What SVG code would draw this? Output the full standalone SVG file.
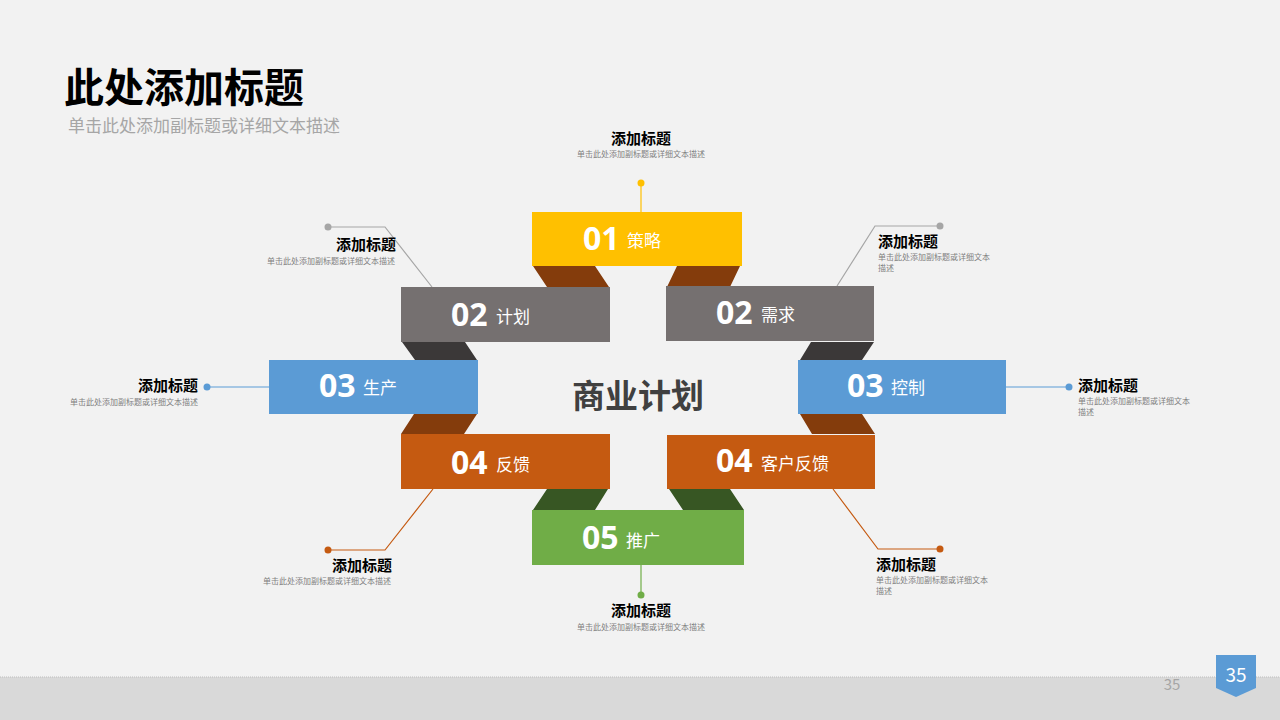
<svg xmlns="http://www.w3.org/2000/svg" width="1280" height="720" viewBox="0 0 1280 720">
<style>
text{font-family:"Noto Sans CJK SC","Liberation Sans",sans-serif}
.n{font-family:"Open Sans","Noto Sans CJK SC",sans-serif;font-weight:bold;font-size:32px;fill:#fff}
.l{font-size:17px;fill:#fff}
.t{font-size:15px;font-weight:bold;fill:#000}
.s{font-size:8px;fill:#7f7f7f}
.r{text-anchor:end}.m{text-anchor:middle}
.ln{fill:none;stroke-width:1.2}
</style>
<rect width="1280" height="720" fill="#f2f2f2"/>
<rect y="677" width="1280" height="43" fill="#d9d9d9"/>
<line x1="0" y1="677" x2="1280" y2="677" stroke="#bfbfbf" stroke-dasharray="1,1"/>
<text x="1172" y="690" class="m" font-size="15" fill="#a6a6a6">35</text>
<path d="M1216,655H1256V688L1236,697L1216,688Z" fill="#5b9bd5"/>
<text x="1236" y="682" class="m" font-size="19" fill="#fff">35</text>
<text x="64" y="102" font-size="40" font-weight="bold" fill="#000">此处添加标题</text>
<text x="68" y="132" font-size="17" fill="#a6a6a6">单击此处添加副标题或详细文本描述</text>
<g id="connectors">
<path class="ln" stroke="#ffc000" d="M641,183V212"/><circle cx="641" cy="183" r="3.5" fill="#ffc000"/>
<path class="ln" stroke="#a6a6a6" d="M328,227H385L432,287"/><circle cx="328" cy="227" r="3.5" fill="#a6a6a6"/>
<path class="ln" stroke="#a6a6a6" d="M837,286L875,226H940"/><circle cx="940" cy="226" r="3.5" fill="#a6a6a6"/>
<path class="ln" stroke="#5b9bd5" d="M207,387H269"/><circle cx="207" cy="387" r="3.5" fill="#5b9bd5"/>
<path class="ln" stroke="#5b9bd5" d="M1006,387H1069"/><circle cx="1069" cy="387" r="3.5" fill="#5b9bd5"/>
<path class="ln" stroke="#c55a11" d="M433,489L385,550H328"/><circle cx="328" cy="550" r="3.5" fill="#c55a11"/>
<path class="ln" stroke="#c55a11" d="M833,489L878,549H940"/><circle cx="940" cy="549" r="3.5" fill="#c55a11"/>
<path class="ln" stroke="#70ad47" d="M641,565V595"/><circle cx="641" cy="595" r="3.5" fill="#70ad47"/>
</g>
<g id="folds">
<path d="M533,266H595L609,287H547Z M677,266H740L730,287H667Z" fill="#843c0c"/>
<path d="M402,342H465L477,360H415Z M811,342H874L862,360H800Z" fill="#3b3838"/>
<path d="M414,414H477L464,434H401Z M800,414H862L875,434H812Z" fill="#843c0c"/>
<path d="M547,489H608L595,510H533Z M669,489H730L744,510H683Z" fill="#375623"/>
</g>
<g id="n01"><rect x="532" y="212" width="210" height="54" fill="#ffc000"/><text x="583" y="250" class="n">01</text><text x="627" y="247" class="l">策略</text></g>
<g id="n02a"><rect x="401" y="287" width="209" height="55" fill="#757070"/><text x="451" y="326" class="n">02</text><text x="496" y="323" class="l">计划</text></g>
<g id="n02b"><rect x="666" y="286" width="208" height="55" fill="#757070"/><text x="716" y="324" class="n">02</text><text x="761" y="321" class="l">需求</text></g>
<g id="n03a"><rect x="269" y="360" width="209" height="54" fill="#5b9bd5"/><text x="319" y="397" class="n">03</text><text x="363" y="394" class="l">生产</text></g>
<g id="n03b"><rect x="798" y="360" width="208" height="54" fill="#5b9bd5"/><text x="847" y="397" class="n">03</text><text x="891" y="394" class="l">控制</text></g>
<g id="n04a"><rect x="401" y="434" width="209" height="55" fill="#c55a11"/><text x="451" y="474" class="n">04</text><text x="496" y="471" class="l">反馈</text></g>
<g id="n04b"><rect x="667" y="435" width="208" height="54" fill="#c55a11"/><text x="716" y="472" class="n">04</text><text x="761" y="470" class="l">客户反馈</text></g>
<g id="n05"><rect x="532" y="510" width="212" height="55" fill="#70ad47"/><text x="582" y="549" class="n">05</text><text x="626" y="547" class="l">推广</text></g>
<text x="638" y="408" class="m" font-size="33" font-weight="bold" fill="#404040">商业计划</text>
<g id="labels">
<text x="641" y="144" class="t m">添加标题</text><text x="641" y="157" class="s m">单击此处添加副标题或详细文本描述</text>
<text x="396" y="250" class="t r">添加标题</text><text x="395" y="264" class="s r">单击此处添加副标题或详细文本描述</text>
<text x="878" y="247" class="t">添加标题</text><text x="878" y="260" class="s">单击此处添加副标题或详细文本</text><text x="878" y="271" class="s">描述</text>
<text x="198" y="391" class="t r">添加标题</text><text x="198" y="405" class="s r">单击此处添加副标题或详细文本描述</text>
<text x="1078" y="391" class="t">添加标题</text><text x="1078" y="404" class="s">单击此处添加副标题或详细文本</text><text x="1078" y="415" class="s">描述</text>
<text x="392" y="571" class="t r">添加标题</text><text x="391" y="584" class="s r">单击此处添加副标题或详细文本描述</text>
<text x="876" y="570" class="t">添加标题</text><text x="876" y="583" class="s">单击此处添加副标题或详细文本</text><text x="876" y="594" class="s">描述</text>
<text x="641" y="616" class="t m">添加标题</text><text x="641" y="630" class="s m">单击此处添加副标题或详细文本描述</text>
</g>
</svg>
